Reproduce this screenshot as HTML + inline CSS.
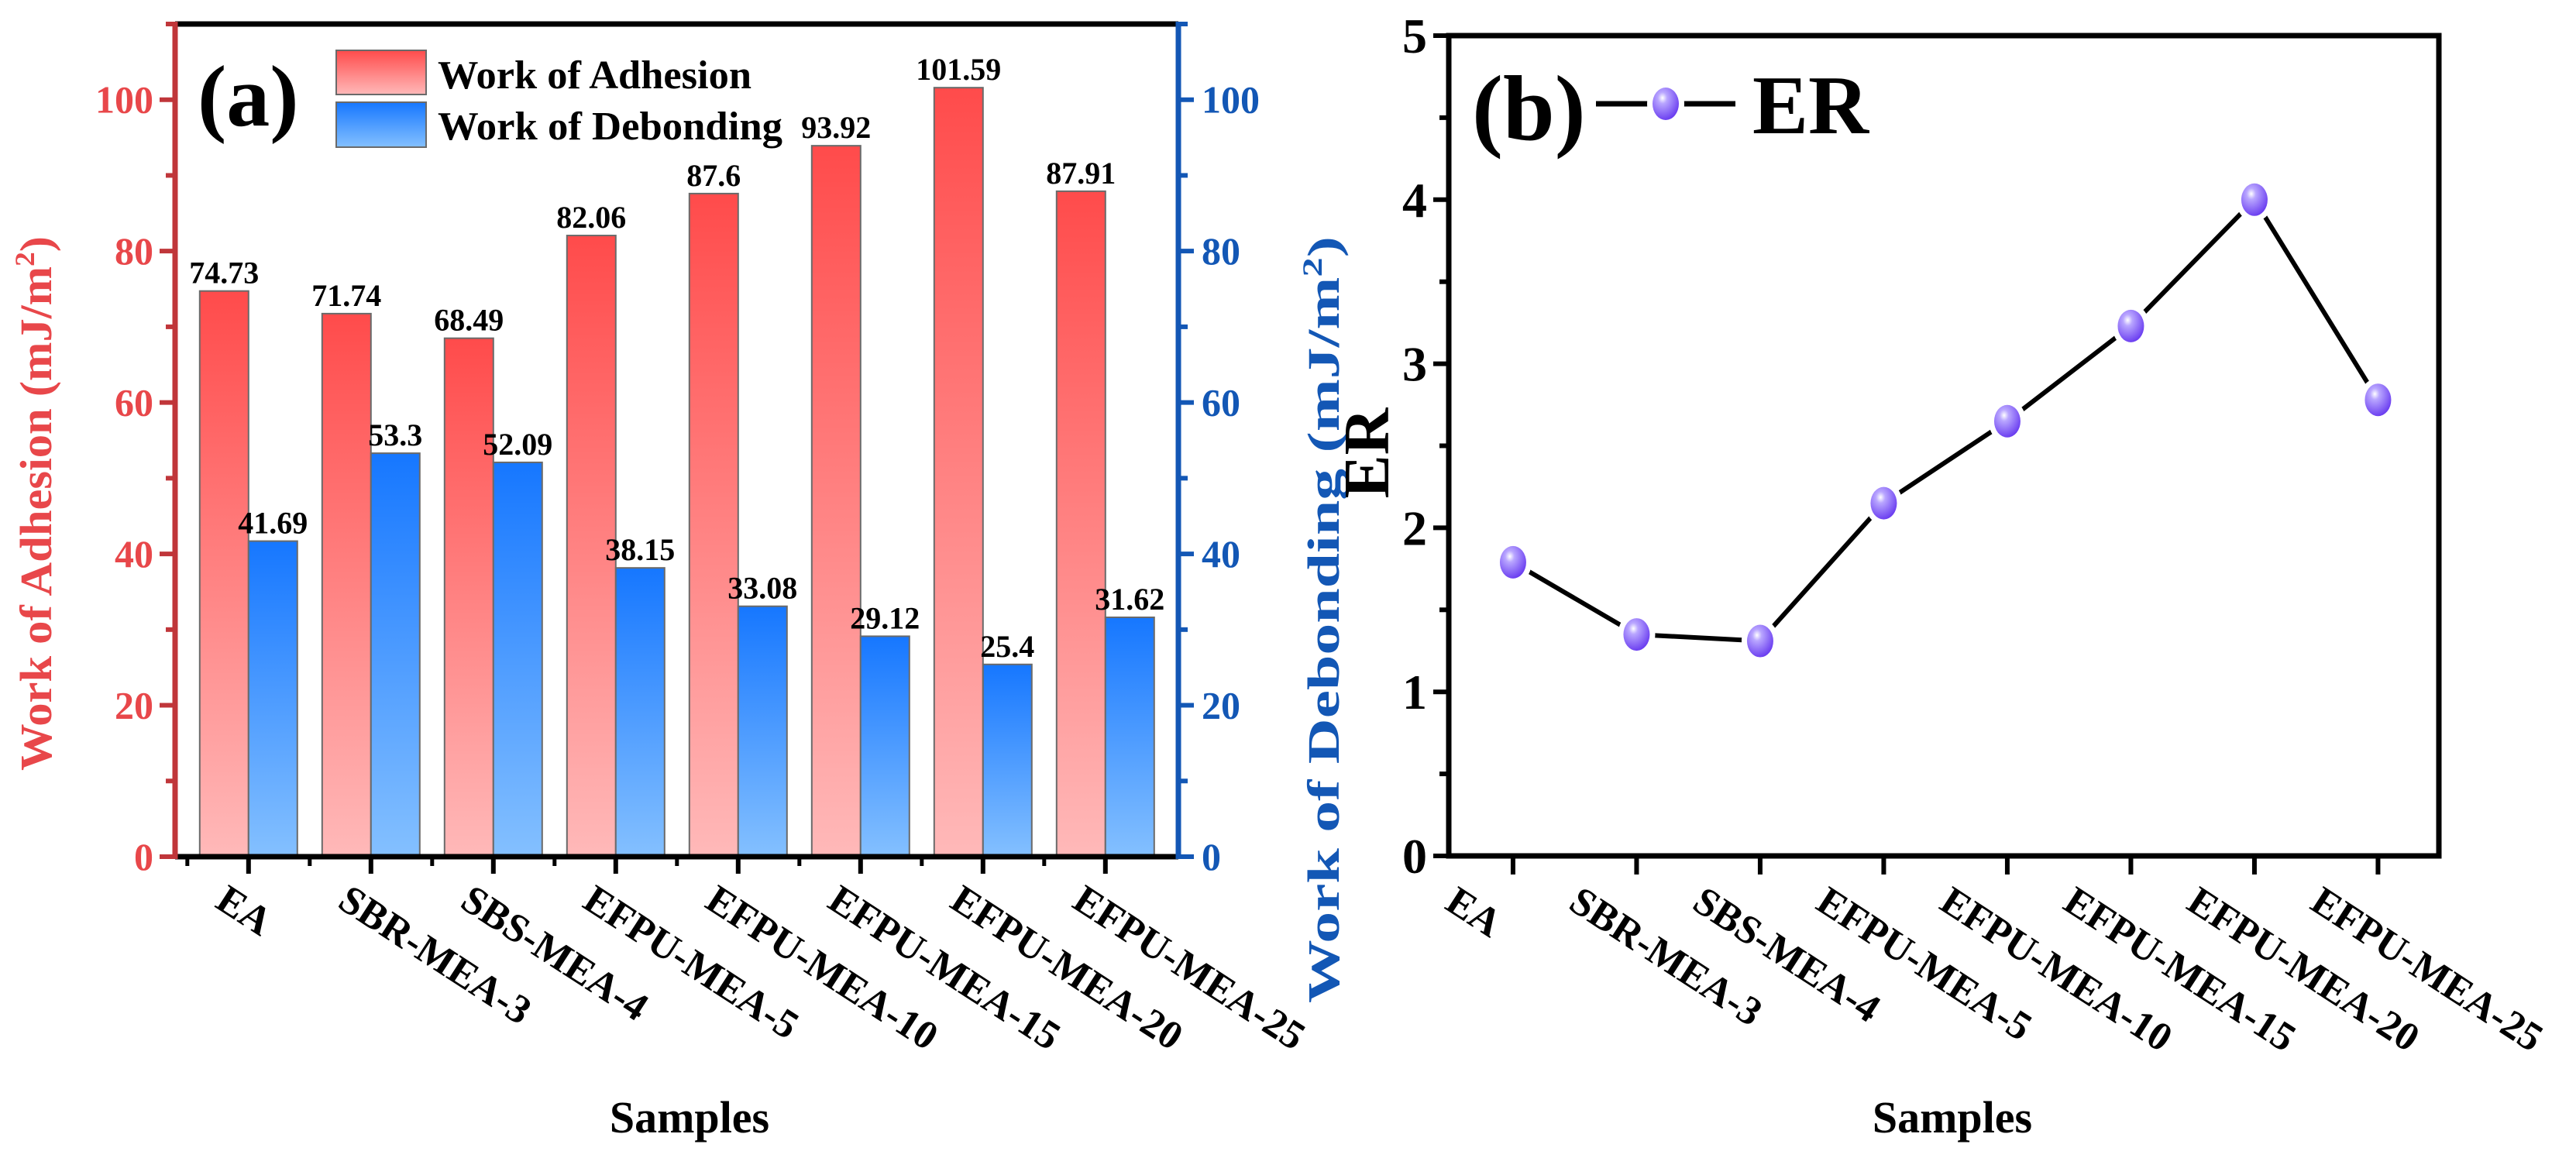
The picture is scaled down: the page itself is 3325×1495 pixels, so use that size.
<!DOCTYPE html>
<html><head><meta charset="utf-8">
<style>
html,body{margin:0;padding:0;background:#fff;}
svg{display:block;font-family:"Liberation Serif",serif;font-weight:bold;}
</style></head>
<body>
<svg id="fig" width="3325" height="1495" viewBox="0 0 3325 1495" xmlns="http://www.w3.org/2000/svg">
<defs>
<linearGradient id="gRed" x1="0" y1="0" x2="0" y2="1"><stop offset="0" stop-color="#ff4b4b"/><stop offset="1" stop-color="#ffb9b9"/></linearGradient>
<linearGradient id="gBlue" x1="0" y1="0" x2="0" y2="1"><stop offset="0" stop-color="#1677ff"/><stop offset="1" stop-color="#84c0ff"/></linearGradient>
<radialGradient id="gBall" cx="0.38" cy="0.32" r="0.7"><stop offset="0" stop-color="#ffffff"/><stop offset="0.25" stop-color="#b9a6ff"/><stop offset="1" stop-color="#6a3df0"/></radialGradient>
</defs>
<g id="panelA"></g>
<g id="panelB"></g>
</svg>
<script>
const categories = ["EA","SBR-MEA-3","SBS-MEA-4","EFPU-MEA-5","EFPU-MEA-10","EFPU-MEA-15","EFPU-MEA-20","EFPU-MEA-25"];
const adhesion = [74.73,71.74,68.49,82.06,87.6,93.92,101.59,87.91];
const debonding = [41.69,53.3,52.09,38.15,33.08,29.12,25.4,31.62];
const adhesionLabels = ["74.73","71.74","68.49","82.06","87.6","93.92","101.59","87.91"];
const debondingLabels = ["41.69","53.3","52.09","38.15","33.08","29.12","25.4","31.62"];
const barTicks = [0,20,40,60,80,100];
const erValues = [1.79,1.35,1.31,2.15,2.65,3.23,4.00,2.78];
const erTicks = [0,1,2,3,4,5];

const NS="http://www.w3.org/2000/svg";
function mk(parent,tag,attrs,text){const e=document.createElementNS(NS,tag);for(const k in attrs)e.setAttribute(k,attrs[k]);if(text!==undefined)e.textContent=text;parent.appendChild(e);return e;}

// ---------- Panel A ----------
const A=document.getElementById('panelA');
const aL=226,aR=1521,aT=31,aB=1106,aMax=110;
const aStep=158,aX0=aL+0.6*aStep;
const ax=i=>aX0+i*aStep;
const ay=v=>aB-(v/aMax)*(aB-aT);
const bw=63;
categories.forEach((c,i)=>{
  let r=mk(A,'rect',{x:ax(i)-bw,y:ay(adhesion[i]),width:bw,height:aB-ay(adhesion[i]),fill:'url(#gRed)',stroke:'#6a6a6a','stroke-width':2});
  
  
  let b=mk(A,'rect',{x:ax(i),y:ay(debonding[i]),width:bw,height:aB-ay(debonding[i]),fill:'url(#gBlue)',stroke:'#6a6a6a','stroke-width':2});
  
  
  let t1=mk(A,'text',{x:ax(i)-bw/2,y:ay(adhesion[i])-10,'text-anchor':'middle','font-size':40,fill:'#000'},adhesionLabels[i]);
  
  
  let t2=mk(A,'text',{x:ax(i)+bw/2,y:ay(debonding[i])-10,'text-anchor':'middle','font-size':40,fill:'#000'},debondingLabels[i]);
  
  
  let tk=mk(A,'line',{x1:ax(i),x2:ax(i),y1:aB,y2:aB+22,stroke:'#000','stroke-width':6});
  
  
  let mt=mk(A,'line',{x1:ax(i)-aStep/2,x2:ax(i)-aStep/2,y1:aB,y2:aB+12,stroke:'#000','stroke-width':5});
  
  
  let xl=mk(A,'text',{x:ax(i)-45,y:1170,'font-size':52,fill:'#000',transform:`rotate(33 ${ax(i)-45} 1170)`},c);
  
  
});
mk(A,'line',{x1:aL,x2:aR,y1:aT,y2:aT,stroke:'#000','stroke-width':7,});
mk(A,'line',{x1:aL,x2:aR,y1:aB,y2:aB,stroke:'#000','stroke-width':7,});
mk(A,'line',{x1:aL,x2:aL,y1:aT-3,y2:aB+3,stroke:'#c0363a','stroke-width':7,});
mk(A,'line',{x1:aR,x2:aR,y1:aT-3,y2:aB+3,stroke:'#1357b5','stroke-width':7,});
for(let v=0;v<=aMax;v+=10){
  const major=v%20===0;
  let l=mk(A,'line',{x1:aL-(major?20:12),x2:aL,y1:ay(v),y2:ay(v),stroke:'#c0363a','stroke-width':6});
  
  
  let r=mk(A,'line',{x1:aR,x2:aR+(major?20:12),y1:ay(v),y2:ay(v),stroke:'#1357b5','stroke-width':6});
  
  
}
barTicks.forEach(v=>{
  let t=mk(A,'text',{x:aL-28,y:ay(v)+17,'text-anchor':'end','font-size':50,fill:'#e8474a'},String(v));
  
  
  let t2=mk(A,'text',{x:aR+30,y:ay(v)+17,'text-anchor':'start','font-size':50,fill:'#1357b5'},String(v));
  
  
});
</script>
<script>
(function(){
const A=document.getElementById('panelA');
A.insertAdjacentHTML('beforeend',`
<text x="0" y="0" transform="translate(66 650) rotate(-90)" text-anchor="middle" font-size="58" fill="#e8474a" textLength="690" lengthAdjust="spacingAndGlyphs">Work of Adhesion (mJ/m<tspan font-size="36" dy="-22">2</tspan><tspan dy="22">)</tspan></text>
<text x="0" y="0" transform="translate(1728 800) rotate(-90)" text-anchor="middle" font-size="58" fill="#1357b5" textLength="990" lengthAdjust="spacingAndGlyphs">Work of Debonding (mJ/m<tspan font-size="36" dy="-22">2</tspan><tspan dy="22">)</tspan></text>
<text x="890" y="1462" text-anchor="middle" font-size="58" fill="#000">Samples</text>
<text x="255" y="162" font-size="112" fill="#000">(a)</text>
<g>
<rect x="434" y="65" width="116" height="57" fill="url(#gRed)" stroke="#6a6a6a" stroke-width="2"/>
<rect x="434" y="132" width="116" height="58" fill="url(#gBlue)" stroke="#6a6a6a" stroke-width="2"/>
<text x="565" y="114" font-size="52" fill="#000" textLength="405" lengthAdjust="spacingAndGlyphs">Work of Adhesion</text>
<text x="565" y="180" font-size="52" fill="#000" textLength="445" lengthAdjust="spacingAndGlyphs">Work of Debonding</text>
</g>`);
})();
</script>
<script>
(function(){
const B=document.getElementById('panelB');
const bL=1870,bR=3148,bT=46,bB=1105,bMax=5;
const bStep=159.5,bX0=bL+0.52*bStep;
const bx=i=>bX0+i*bStep;
const by=v=>bB-(v/bMax)*(bB-bT);
mk(B,'rect',{x:bL,y:bT,width:bR-bL,height:bB-bT,fill:'none',stroke:'#000','stroke-width':7,});
for(let k=0;k<=10;k++){
  const v=k*0.5,major=k%2===0;
  let l=mk(B,'line',{x1:bL-(major?20:12),x2:bL,y1:by(v),y2:by(v),stroke:'#000','stroke-width':6});
  
  
}
erTicks.forEach(v=>{
  let t=mk(B,'text',{x:bL-28,y:by(v)+22,'text-anchor':'end','font-size':64,fill:'#000'},String(v));
  
  
});
categories.forEach((c,i)=>{
  let tk=mk(B,'line',{x1:bx(i),x2:bx(i),y1:bB,y2:bB+24,stroke:'#000','stroke-width':6});
  
  
  let xl=mk(B,'text',{x:bx(i)-90,y:1172,'font-size':52,fill:'#000',transform:`rotate(33 ${bx(i)-90} 1172)`},c);
  
  
});
let pts=erValues.map((v,i)=>bx(i)+','+by(v)).join(' ');
let pl=mk(B,'polyline',{points:pts,fill:'none',stroke:'#000','stroke-width':6,'stroke-linejoin':'round'});


erValues.forEach((v,i)=>{
  mk(B,'ellipse',{cx:bx(i),cy:by(v),rx:24,ry:28,fill:'#fff'});
  let m=mk(B,'ellipse',{cx:bx(i),cy:by(v),rx:17,ry:21,fill:'url(#gBall)'});
  
  
});
B.insertAdjacentHTML('beforeend',`
<text x="0" y="0" transform="translate(1792 585) rotate(-90)" text-anchor="middle" font-size="84" fill="#000">ER</text>
<text x="2520" y="1462" text-anchor="middle" font-size="58" fill="#000">Samples</text>
<text x="1900" y="180" font-size="120" fill="#000">(b)</text>
<g>
<line x1="2060" x2="2240" y1="134" y2="134" stroke="#000" stroke-width="7"/>
<ellipse cx="2150" cy="134" rx="24" ry="28" fill="#fff"/>
<ellipse cx="2150" cy="134" rx="17" ry="21" fill="url(#gBall)"/>
<text x="2262" y="172" font-size="108" fill="#000">ER</text>
</g>`);
})();
</script>
</body></html>
